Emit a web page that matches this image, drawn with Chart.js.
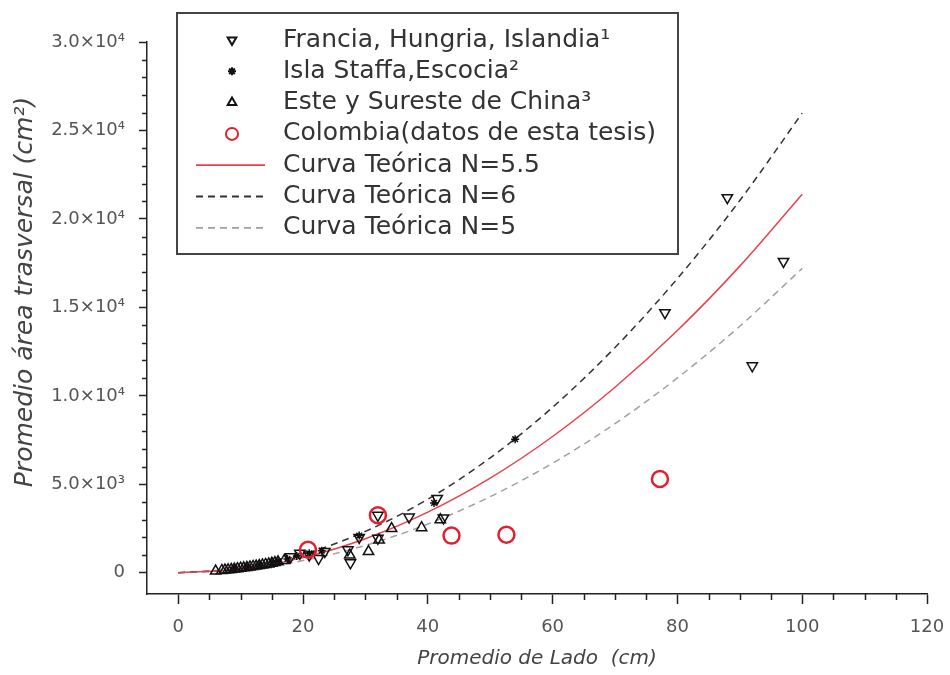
<!DOCTYPE html>
<html>
<head>
<meta charset="utf-8">
<script src="https://cdn.jsdelivr.net/npm/chart.js@4"></script>
<style>
html,body{margin:0;padding:0;background:#fff;}
canvas{display:block;}
</style>
</head>
<body>
<canvas id="c" width="950" height="675"></canvas>
<script>
// ---- data ----
const seriesLabels = [
  'Francia, Hungria, Islandia\u00B9',
  'Isla Staffa,Escocia\u00B2',
  'Este y Sureste de China\u00B3',
  'Colombia(datos de esta tesis)',
  'Curva Te\u00F3rica N=5.5',
  'Curva Te\u00F3rica N=6',
  'Curva Te\u00F3rica N=5'
];
const franciaX = [18, 19.5, 21, 22.5, 23.5, 27.2, 27.6, 29, 32, 32, 37, 41.5, 42.5, 78, 88, 92, 97];
const franciaY = [900, 1100, 1000, 800, 1200, 1300, 560, 2000, 3250, 1950, 3150, 4200, 3100, 14700, 21200, 11700, 17600];
const staffaX = [9, 11, 13, 15, 16, 17.5, 19, 21, 23, 29, 41, 54];
const staffaY = [250, 350, 450, 580, 650, 780, 950, 1100, 1250, 2100, 3950, 7550];
const chinaX = [6, 7, 7.5, 8, 8.5, 9, 9.5, 10, 10.5, 11, 11.5, 12, 12.5, 13, 13.5, 14, 14.5, 15, 15.5, 16, 17, 27.5, 30.5, 32.2, 34.2, 39, 42];
const chinaY = [100, 130, 150, 170, 190, 210, 230, 260, 280, 300, 330, 360, 380, 410, 440, 470, 500, 540, 580, 620, 700, 1000, 1200, 1850, 2500, 2550, 3000];
const colombiaX = [20.8, 32, 43.8, 52.6, 77.2];
const colombiaY = [1300, 3250, 2100, 2150, 5300];
const curveX = [0, 10, 20, 30, 40, 50, 60, 70, 80, 90, 100];
const curveN55 = [0, 214, 856, 1926, 3424, 5349, 7703, 10485, 13694, 17332, 21397];
const curveN6 = [0, 260, 1039, 2338, 4157, 6495, 9353, 12731, 16628, 21044, 25981];
const curveN5 = [0, 172, 688, 1548, 2753, 4301, 6194, 8430, 11011, 13936, 17205];
const xTickValues = [0, 20, 40, 60, 80, 100, 120];
const xTickLabels = ['0', '20', '40', '60', '80', '100', '120'];
const yTickValues = [0, 5000, 10000, 15000, 20000, 25000, 30000];
const yTickLabels = ['0', '5.0\u00D710\u00B3', '1.0\u00D710\u2074', '1.5\u00D710\u2074', '2.0\u00D710\u2074', '2.5\u00D710\u2074', '3.0\u00D710\u2074'];
const xTitle = 'Promedio de Lado  (cm)';
const yTitle = 'Promedio \u00E1rea trasversal (cm\u00B2)';

const zip = (xs, ys) => xs.map((x, i) => ({x: x, y: ys[i]}));

const FONT = "'DejaVu Sans', 'Open Sans', sans-serif";
const AX = '#222';

const minorTicks = {
  id: 'minorTicks',
  afterDraw(chart) {
    const ctx = chart.ctx, xs = chart.scales.x, ys = chart.scales.y;
    ctx.save();
    ctx.strokeStyle = AX;
    ctx.lineWidth = 1.5;
    ctx.beginPath();
    for (let v = 5; v < 120; v += 5) {
      if (v % 20 === 0) continue;
      const p = Math.round(xs.getPixelForValue(v)) + 0.5;
      ctx.moveTo(p, xs.top);
      ctx.lineTo(p, xs.top + 6);
    }
    for (let v = 1000; v < 30000; v += 1000) {
      if (v % 5000 === 0) continue;
      const p = Math.round(ys.getPixelForValue(v)) + 0.5;
      ctx.moveTo(ys.right, p);
      ctx.lineTo(ys.right - 5, p);
    }
    ctx.stroke();
    // y-axis title
    ctx.save();
    ctx.translate(25, 292);
    ctx.rotate(-Math.PI / 2);
    ctx.font = 'oblique 25px ' + FONT;
    ctx.fillStyle = '#444';
    ctx.textAlign = 'center';
    ctx.textBaseline = 'middle';
    ctx.fillText(yTitle, 0, 0);
    ctx.restore();
    ctx.restore();
  }
};

const boxLegend = {
  id: 'boxLegend',
  afterDraw(chart) {
    const ctx = chart.ctx;
    const L = 177, T = 13, R = 678, B = 254;
    ctx.save();
    ctx.fillStyle = '#fff';
    ctx.fillRect(L, T, R - L, B - T);
    ctx.strokeStyle = '#444';
    ctx.lineWidth = 2;
    ctx.strokeRect(L, T, R - L, B - T);
    ctx.font = '25px ' + FONT;
    ctx.textBaseline = 'middle';
    ctx.textAlign = 'left';
    chart.data.datasets.forEach((ds, i) => {
      const y = 40 + i * 31.3;
      if (ds.showLine) {
        ctx.save();
        ctx.strokeStyle = ds.borderColor;
        ctx.lineWidth = 1.8;
        ctx.setLineDash(ds.borderDash || []);
        ctx.beginPath();
        ctx.moveTo(196, y);
        ctx.lineTo(265, y);
        ctx.stroke();
        ctx.restore();
      } else {
        ctx.save();
        ctx.strokeStyle = ds.borderColor;
        ctx.fillStyle = 'rgba(0,0,0,0)';
        Chart.helpers.drawPoint(ctx, {
          pointStyle: ds.pointStyle,
          rotation: ds.pointRotation || 0,
          radius: ds.legendRadius,
          borderWidth: ds.borderWidth + 0.8
        }, 232, y);
        ctx.restore();
      }
      ctx.fillStyle = '#333';
      ctx.fillText(ds.label, 283, y);
    });
    ctx.restore();
  }
};

new Chart(document.getElementById('c'), {
  type: 'scatter',
  data: {
    datasets: [
      {label: seriesLabels[0], data: zip(franciaX, franciaY), pointStyle: 'triangle', pointRotation: 180,
       radius: 6, legendRadius: 5, borderColor: '#111', backgroundColor: 'rgba(0,0,0,0)', borderWidth: 1.5, order: 1},
      {label: seriesLabels[1], data: zip(staffaX, staffaY), pointStyle: 'star',
       radius: 4, legendRadius: 4, borderColor: '#111', backgroundColor: 'rgba(0,0,0,0)', borderWidth: 1.5, order: 1},
      {label: seriesLabels[2], data: zip(chinaX, chinaY), pointStyle: 'triangle',
       radius: 6, legendRadius: 5, borderColor: '#111', backgroundColor: 'rgba(0,0,0,0)', borderWidth: 1.5, order: 1},
      {label: seriesLabels[3], data: zip(colombiaX, colombiaY), pointStyle: 'circle',
       radius: 8, legendRadius: 6, borderColor: '#e0202e', backgroundColor: 'rgba(0,0,0,0)', borderWidth: 2.5, order: 0},
      {label: seriesLabels[4], data: zip(curveX, curveN55), showLine: true, pointRadius: 0, borderColor: '#e8424c',
       borderWidth: 1.5, tension: 0.4, cubicInterpolationMode: 'monotone', fill: false, order: 2},
      {label: seriesLabels[5], data: zip(curveX, curveN6), showLine: true, pointRadius: 0, borderColor: '#333',
       borderWidth: 1.5, borderDash: [7, 5], cubicInterpolationMode: 'monotone', fill: false, order: 2},
      {label: seriesLabels[6], data: zip(curveX, curveN5), showLine: true, pointRadius: 0, borderColor: '#a0a0a0',
       borderWidth: 1.5, borderDash: [7, 5], cubicInterpolationMode: 'monotone', fill: false, order: 2}
    ]
  },
  options: {
    responsive: false,
    animation: false,
    devicePixelRatio: 1,
    layout: {padding: {top: 42, right: 23, left: 0, bottom: 0}},
    plugins: {legend: {display: false}, tooltip: {enabled: false}},
    scales: {
      x: {
        type: 'linear', min: -5, max: 120,
        afterBuildTicks: (s) => { s.ticks = xTickValues.map(v => ({value: v})); },
        afterFit: (s) => { s.height = 81; s.paddingRight = 0; s.paddingLeft = 0; },
        ticks: {
          callback: (v) => { const i = xTickValues.indexOf(v); return i >= 0 ? xTickLabels[i] : ''; },
          font: {family: FONT, size: 18}, color: '#555', padding: 13, maxRotation: 0, autoSkip: false
        },
        grid: {display: true, drawOnChartArea: false, drawTicks: true, tickLength: 10, tickWidth: 1.5, tickColor: AX},
        border: {display: true, color: AX, width: 1.5},
        title: {display: true, text: xTitle, font: {family: FONT, size: 20, style: 'oblique'}, color: '#444',
                padding: {top: 0, bottom: 4}}
      },
      y: {
        type: 'linear', min: -1200, max: 30000,
        afterBuildTicks: (s) => { s.ticks = yTickValues.map(v => ({value: v})); },
        afterFit: (s) => { s.width = 147; s.paddingTop = 0; s.paddingBottom = 0; },
        ticks: {
          callback: (v) => { const i = yTickValues.indexOf(v); return i >= 0 ? yTickLabels[i] : ''; },
          font: {family: FONT, size: 18}, color: '#555', padding: 14, autoSkip: false
        },
        grid: {display: true, drawOnChartArea: false, drawTicks: true, tickLength: 8, tickWidth: 1.5, tickColor: AX},
        border: {display: true, color: AX, width: 1.5},
        title: {display: false}
      }
    }
  },
  plugins: [minorTicks, boxLegend]
});
</script>
</body>
</html>
